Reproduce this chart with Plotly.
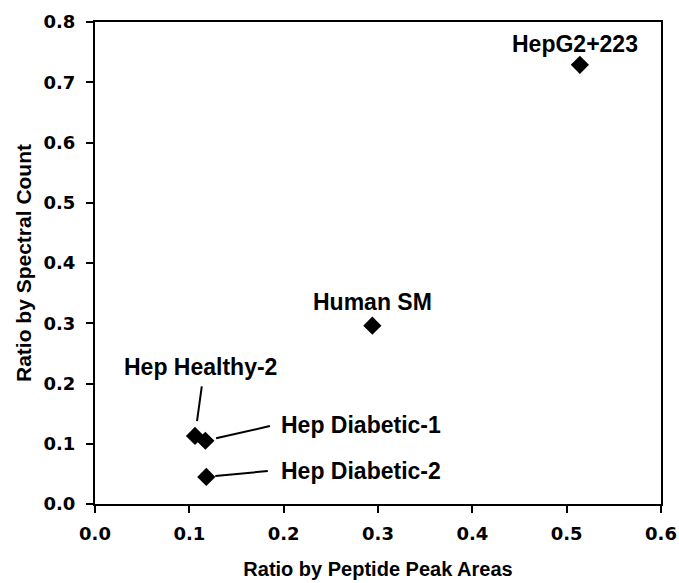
import plotly.graph_objects as go

names = ["HepG2+223", "Human SM", "Hep Healthy-2", "Hep Diabetic-1", "Hep Diabetic-2"]
x_vals = [0.514, 0.294, 0.106, 0.117, 0.118]
y_vals = [0.729, 0.296, 0.113, 0.105, 0.045]
x_ticks = [0.0, 0.1, 0.2, 0.3, 0.4, 0.5, 0.6]
y_ticks = [0.0, 0.1, 0.2, 0.3, 0.4, 0.5, 0.6, 0.7, 0.8]

fig = go.Figure()
fig.add_trace(go.Scatter(
    x=x_vals, y=y_vals, mode="markers",
    marker=dict(symbol="diamond", size=14, color="black", line=dict(width=0)),
    hoverinfo="skip", showlegend=False))

lab_font = dict(family="Liberation Sans, Arial, sans-serif", size=23, color="black")
# text placement: (xshift, yshift, xanchor)
text_place = {
    "HepG2+223": (-5, 21, "center"),
    "Human SM": (0, 24, "center"),
    "Hep Healthy-2": (6, 69, "center"),
    "Hep Diabetic-1": (74, 16, "left"),
    "Hep Diabetic-2": (73, 6, "left"),
}
# leader lines: (ax, ay, standoff)
leaders = {
    "Hep Healthy-2": (7, -51, 15),
    "Hep Diabetic-1": (66, -15, 11),
    "Hep Diabetic-2": (63, -6, 9),
}
for n, xv, yv in zip(names, x_vals, y_vals):
    xs, ys, xa = text_place[n]
    fig.add_annotation(x=xv, y=yv, text="<b>%s</b>" % n, showarrow=False,
                       xshift=xs, yshift=ys, xanchor=xa, yanchor="middle", font=lab_font)
    if n in leaders:
        ax, ay, so = leaders[n]
        fig.add_annotation(x=xv, y=yv, text="", showarrow=True, arrowhead=0,
                           arrowwidth=2, arrowcolor="black", ax=ax, ay=ay,
                           standoff=so, axref="pixel", ayref="pixel")

tick_font = dict(family="DejaVu Sans", size=18, color="black", weight="bold")
fig.update_xaxes(range=[0, 0.6], tickvals=x_ticks, ticktext=["%.1f" % v for v in x_ticks],
                 ticks="outside", ticklen=7, tickwidth=2, tickcolor="black",
                 showline=True, linewidth=2, linecolor="black", mirror=True,
                 showgrid=False, zeroline=False, tickfont=tick_font, ticklabelstandoff=5,
                 automargin=False,
                 title=dict(text="<b>Ratio by Peptide Peak Areas</b>",
                            font=dict(family="Liberation Sans, Arial, sans-serif", size=20, color="black"),
                            standoff=19))
fig.update_yaxes(range=[0, 0.8], tickvals=y_ticks, ticktext=["%.1f" % v for v in y_ticks],
                 ticks="outside", ticklen=7, tickwidth=2, tickcolor="black",
                 showline=True, linewidth=2, linecolor="black", mirror=True,
                 showgrid=False, zeroline=False, tickfont=tick_font, ticklabelstandoff=7,
                 automargin=False,
                 title=dict(text="<b>Ratio by Spectral Count</b>",
                            font=dict(family="Liberation Sans, Arial, sans-serif", size=21, color="black"),
                            standoff=6))
fig.update_layout(width=679, height=583, margin=dict(l=95, r=18, t=22, b=79),
                  plot_bgcolor="white", paper_bgcolor="white")
fig.write_html("out.html")
